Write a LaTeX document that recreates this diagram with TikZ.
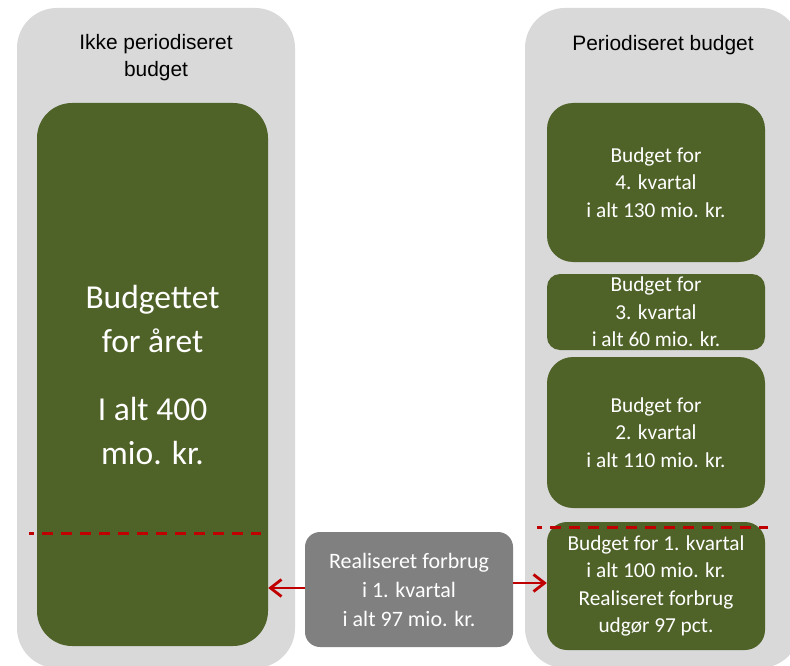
\documentclass[tikz,border=0pt]{standalone}
\usepackage{fontspec}
\setmainfont{Carlito}
\newfontfamily\arialf{Liberation Sans}
\usetikzlibrary{arrows.meta}
\definecolor{panelgray}{HTML}{D9D9D9}
\definecolor{olivebox}{HTML}{4F6228}
\definecolor{midgray}{HTML}{808080}
\definecolor{darkred}{HTML}{C00000}
\begin{document}
\begin{tikzpicture}[x=1pt,y=-1pt,
  panel/.style={fill=panelgray, draw=none, rounded corners=40pt, inner sep=0pt},
  titletext/.style={text=black, align=center, inner sep=0pt, font=\arialf\fontsize{20.9}{27}\selectfont},
  gbox/.style={fill=olivebox, draw=none, text=white, align=center, inner sep=0pt,
    font=\fontsize{21.3}{27.5}\selectfont},
  realbox/.style={fill=midgray, draw=none, text=white, align=center, inner sep=0pt,
    rounded corners=15pt, font=\fontsize{22}{29}\selectfont},
  dashline/.style={draw=darkred, line width=3pt, dash pattern=on 11pt off 8pt, dash phase=6pt},
  arr/.style={draw=darkred, line width=2.8pt, -{Straight Barb[length=11pt,width=17pt]}}
]
\useasboundingbox (0,0) rectangle (790,666);
\clip (0,0) rectangle (790,666);
\fill[white] (0,0) rectangle (790,666);

% panels
\node[panel, minimum width=278pt, minimum height=660pt] (lp) at (156,338) {};
\node[panel, minimum width=275pt, minimum height=660pt] (rp) at (662.5,338) {};
\node[titletext] (lt) at (156,58) {Ikke periodiseret\\budget};
\node[titletext] (rt) at (663,45) {Periodiseret budget};

% left big box
\node[gbox, rounded corners=35pt, minimum width=231pt, minimum height=543pt,
  font=\fontsize{33.5}{44}\selectfont] (lb) at (152.5,374.5)
  {Budgettet\\for året\\[24pt]I alt 400\\mio. kr.};

% right quarter boxes
\node[gbox, rounded corners=26pt, minimum width=218pt, minimum height=159pt] (q4) at (656,182.5)
  {Budget for\\4. kvartal\\i alt 130 mio. kr.};
\node[gbox, rounded corners=13pt, minimum width=218pt, minimum height=76pt] (q3) at (656,312)
  {Budget for\\3. kvartal\\i alt 60 mio. kr.};
\node[gbox, rounded corners=26pt, minimum width=218pt, minimum height=151pt] (q2) at (656,432.5)
  {Budget for\\2. kvartal\\i alt 110 mio. kr.};
\node[gbox, rounded corners=20pt, minimum width=218pt, minimum height=128pt] (q1) at (656,586)
  {Budget for 1. kvartal\\i alt 100 mio. kr.\\Realiseret forbrug\\udgør 97 pct.};

% realised box
\node[realbox, minimum width=208pt, minimum height=115pt] (rb) at (409,589.5)
  {Realiseret forbrug\\i 1. kvartal\\i alt 97 mio. kr.};

% dashed lines
\coordinate (dl1) at (29,533);
\coordinate (dl2) at (261,533);
\coordinate (dr1) at (537,527);
\coordinate (dr2) at (768,527);
\draw[dashline] (dl1) -- (dl2);
\draw[dashline] (dr1) -- (dr2);

% arrows
\draw[arr] ([yshift=1.5pt]rb.west) -- ([yshift=1.5pt]rb.west -| lb.east);
\draw[arr] ([yshift=6.5pt]rb.east) -- ([yshift=6.5pt]rb.east -| q1.west);
\end{tikzpicture}
\end{document}
